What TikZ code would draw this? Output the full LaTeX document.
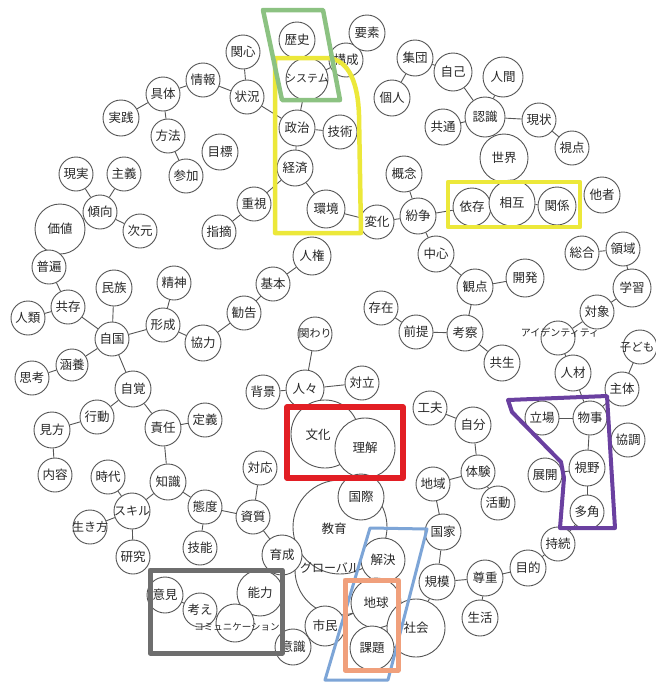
\documentclass[tikz,border=0pt]{standalone}
\usepackage{fontspec}
\newfontfamily\jp{Noto Sans CJK JP}
\definecolor{cgray}{RGB}{85,85,85}
\definecolor{ctext}{RGB}{40,40,40}
\definecolor{fgreen}{RGB}{140,194,130}
\definecolor{fyellow}{RGB}{236,232,58}
\definecolor{fred}{RGB}{226,30,36}
\definecolor{fpurple}{RGB}{106,64,160}
\definecolor{fgray}{RGB}{110,110,110}
\definecolor{fblue}{RGB}{125,165,215}
\definecolor{forange}{RGB}{240,160,124}
\tikzset{
  bub/.style={circle,draw=cgray,line width=0.9pt,fill=white,inner sep=0pt},
  txt/.style={font=\jp\fontsize{12.5}{13}\selectfont,text=ctext,inner sep=0pt},
  edge/.style={draw=cgray,line width=0.9pt},
  frm/.style={line width=4.5pt,line join=round}
}
\newcommand\NDcirc[5]{\node[bub,minimum size={2*#4}] (#1) at (#2,#3) {};}
\newcommand\NDtext[5]{\node[txt] (#1-t) at (#1) {#5};}
\newcommand\NXcirc[7]{\node[bub,minimum size={2*#4}] (#1) at (#2,#3) {};}
\newcommand\NXtext[7]{\node[txt] (#1-t) at (#5,#6) {#7};}
\newcommand\allnodes{%
\ND{rekishi}{297}{40}{18}{歴史}
\ND{kousei}{346}{60}{17}{構成}
\ND{yoso}{367}{33}{18}{要素}
\ND{kanshin}{243}{52}{17}{関心}
\ND{system}{307}{79}{21}{{\fontsize{11}{11}\selectfont システム}}
\ND{shudan}{415}{58}{18}{集団}
\ND{jiko}{453}{72}{19}{自己}
\ND{ningen}{503}{77}{20}{人間}
\ND{kojin}{392}{98}{18}{個人}
\ND{jouhou}{203}{80}{17}{情報}
\ND{gutai}{163}{94}{17}{具体}
\ND{joukyou}{247}{97}{17}{状況}
\ND{jissen}{121}{118}{18}{実践}
\ND{houhou}{168}{136}{17}{方法}
\ND{seiji}{297}{128}{18}{政治}
\ND{gijutsu}{340}{132}{17}{技術}
\ND{kyoutsu}{443}{127}{18}{共通}
\ND{sekai}{504}{158}{24}{世界}
\ND{ninshiki}{485}{117}{20}{認識}
\ND{genjou}{539}{120}{17}{現状}
\ND{shiten}{572}{148}{17}{視点}
\ND{mokuhyou}{220}{152}{18}{目標}
\ND{sanka}{186}{176}{17}{参加}
\ND{keizai}{295}{168}{18}{経済}
\ND{gainen}{404}{174}{18}{概念}
\ND{genjitsu}{76}{174}{17}{現実}
\ND{shugi}{124}{174}{17}{主義}
\ND{keikou}{100}{212}{17}{傾向}
\ND{kachi}{60}{229}{25}{価値}
\ND{jigen}{140}{231}{17}{次元}
\ND{juushi}{254}{204}{17}{重視}
\ND{kankyou}{326}{209}{19}{環境}
\ND{henka}{377}{222}{17}{変化}
\ND{funsou}{418}{216}{18}{紛争}
\ND{izon}{472}{207}{19}{依存}
\ND{kankei}{557}{206}{19}{関係}
\ND{sougo}{512}{203}{23}{相互}
\ND{tasha}{602}{195}{18}{他者}
\ND{shiteki}{219}{232}{17}{指摘}
\ND{chuushin}{436}{254}{18}{中心}
\ND{fuhen}{49}{267}{17}{普遍}
\ND{sougou}{582}{253}{17}{総合}
\ND{ryouiki}{623}{249}{17}{領域}
\ND{jinken}{312}{256}{19}{人権}
\ND{minzoku}{114}{288}{18}{民族}
\ND{seishin}{174}{283}{17}{精神}
\ND{kihon}{273}{284}{17}{基本}
\ND{kanten}{475}{287}{18}{観点}
\ND{kaihatsu}{525}{278}{19}{開発}
\ND{gakushuu}{632}{288}{19}{学習}
\ND{kyouzon}{68}{307}{17}{共存}
\ND{jinrui}{28}{318}{17}{人類}
\ND{keisei}{163}{325}{17}{形成}
\ND{kyouryoku}{203}{343}{18}{協力}
\ND{kankoku}{244}{313}{17}{勧告}
\ND{taishou}{597}{312}{17}{対象}
\ND{sonzai}{381}{308}{17}{存在}
\ND{zentei}{416}{332}{17}{前提}
\ND{kousatsu}{465}{333}{18}{考察}
\ND{jikoku}{112}{339}{17}{自国}
\NX{identity}{558}{338}{17}{560}{333}{{\fontsize{10}{10}\selectfont アイデンティティ}}
\ND{kakawari}{315}{334}{17}{{\fontsize{11}{11}\selectfont 関わり}}
\NX{kodomo}{640}{347}{17}{637}{347}{{\fontsize{11.5}{11}\selectfont 子ども}}
\ND{kanyou}{72}{365}{16}{涵養}
\ND{shikou}{32}{378}{17}{思考}
\ND{kyousei}{502}{363}{18}{共生}
\ND{jinzai}{573}{373}{18}{人材}
\ND{haikei}{263}{392}{17}{背景}
\ND{hitobito}{305}{389}{19}{人々}
\ND{tairitsu}{362}{383}{17}{対立}
\ND{jikaku}{133}{389}{18}{自覚}
\ND{shutai}{622}{389}{17}{主体}
\NX{bunka}{325}{434}{34}{318}{435}{文化}
\ND{rikai}{365}{448}{30}{理解}
\ND{kufuu}{430}{408}{17}{工夫}
\ND{koudou}{97}{417}{17}{行動}
\ND{teigi}{205}{420}{17}{定義}
\ND{tachiba}{542}{418}{17}{立場}
\ND{monogoto}{590}{418}{17}{物事}
\ND{sekinin}{163}{428}{18}{責任}
\ND{jibun}{473}{425}{18}{自分}
\ND{mikata}{52}{430}{18}{見方}
\ND{kyouchou}{628}{440}{17}{協調}
\NX{global}{340}{570}{45}{330}{568}{{\fontsize{12}{12}\selectfont グローバル}}
\NX{kyouiku}{340}{527}{47}{334}{529}{教育}
\ND{kokusai}{361}{497}{23}{国際}
\ND{taiou}{260}{468}{17}{対応}
\ND{chiiki}{433}{484}{17}{地域}
\ND{taiken}{478}{472}{17}{体験}
\ND{naiyou}{55}{475}{17}{内容}
\ND{jidai}{108}{477}{17}{時代}
\ND{chishiki}{168}{482}{18}{知識}
\ND{tenkai}{545}{475}{17}{展開}
\ND{shiya}{587}{468}{18}{視野}
\ND{katsudou}{498}{503}{17}{活動}
\ND{takaku}{587}{512}{17}{多角}
\ND{taido}{205}{507}{17}{態度}
\ND{shishitsu}{253}{517}{17}{資質}
\ND{kokka}{443}{532}{18}{国家}
\ND{skill}{132}{511}{18}{{\fontsize{12}{12}\selectfont スキル}}
\ND{ikikata}{90}{527}{17}{{\fontsize{12}{12}\selectfont 生き方}}
\ND{jizoku}{558}{544}{17}{持続}
\ND{kenkyuu}{133}{557}{17}{研究}
\ND{ginou}{200}{548}{17}{技能}
\ND{ikusei}{282}{555}{20}{育成}
\ND{kaiketsu}{383}{560}{22}{解決}
\ND{mokuteki}{528}{568}{18}{目的}
\ND{kibo}{437}{582}{18}{規模}
\ND{sonchou}{485}{578}{18}{尊重}
\ND{iken}{165}{595}{18}{意見}
\ND{kangae}{200}{610}{17}{考え}
\ND{nouryoku}{260}{593}{23}{能力}
\ND{chikyuu}{376}{603}{25}{地球}
\ND{shakai}{416}{628}{29}{社会}
\ND{kadai}{372}{648}{22}{課題}
\ND{shimin}{325}{626}{20}{市民}
\ND{seikatsu}{480}{618}{18}{生活}
\NX{comm}{235}{623}{19}{237}{627}{{\fontsize{9.5}{10}\selectfont コミュニケーション}}
\ND{ishiki}{293}{647}{18}{意識}
}
\begin{document}
\begin{tikzpicture}[x=1pt,y=-1pt]
\useasboundingbox (0,0) rectangle (656,683);
\fill[white] (0,0) rectangle (656,683);
% circles
\let\ND\NDcirc \let\NX\NXcirc
\allnodes
% connectors
\foreach \a/\b in {gutai/jissen,gutai/jouhou,gutai/houhou,houhou/sanka,jouhou/joukyou,
  joukyou/kanshin,joukyou/seiji,system/seiji,seiji/gijutsu,seiji/keizai,system/kousei,
  keizai/kankyou,keizai/juushi,juushi/shiteki,kankyou/henka,henka/funsou,funsou/gainen,
  funsou/chuushin,funsou/izon,sougo/kankei,ninshiki/sekai,ninshiki/jiko,ninshiki/kyoutsu,
  ninshiki/genjou,ninshiki/ningen,genjou/shiten,shudan/kojin,shudan/jiko,
  chuushin/kanten,kanten/kaihatsu,kanten/kousatsu,kousatsu/zentei,zentei/sonzai,
  kousatsu/kyousei,sougou/ryouiki,ryouiki/gakushuu,gakushuu/taishou,taishou/identity,
  identity/jinzai,jinzai/monogoto,monogoto/tachiba,monogoto/shiya,shiya/takaku,
  shiya/tenkai,shutai/kodomo,shutai/monogoto,takaku/jizoku,jizoku/mokuteki,
  mokuteki/sonchou,sonchou/kibo,sonchou/seikatsu,kibo/kokka,kokka/chiiki,chiiki/taiken,
  taiken/jibun,taiken/katsudou,jibun/kufuu,jinken/kihon,kihon/kankoku,
  kankoku/kyouryoku,kyouryoku/keisei,keisei/seishin,keisei/jikoku,jikoku/minzoku,
  jikoku/kyouzon,kyouzon/jinrui,kyouzon/fuhen,kachi/keikou,keikou/genjitsu,
  keikou/shugi,keikou/jigen,jikoku/kanyou,kanyou/shikou,jikoku/jikaku,jikaku/koudou,
  koudou/mikata,mikata/naiyou,jikaku/sekinin,sekinin/teigi,sekinin/chishiki,
  chishiki/skill,chishiki/taido,skill/jidai,skill/ikikata,skill/kenkyuu,taido/ginou,
  taido/shishitsu,shishitsu/taiou,shishitsu/ikusei,hitobito/kakawari,hitobito/haikei,
  hitobito/tairitsu,ikusei/nouryoku,comm/kangae,kangae/iken,chikyuu/shimin,kibo/shakai}
  \draw[edge] (\a) -- (\b);
% texts
\let\ND\NDtext \let\NX\NXtext
\allnodes
% frames
\draw[frm,fyellow] (275,58) -- (328,58) .. controls (350,60) and (358,85) .. (359,115) -- (361,233) -- (275,233) -- cycle;
\draw[frm,fgreen] (263,10) -- (323,10) -- (340,100) -- (282,100) -- cycle;
\draw[frm,fyellow] (448,182) rectangle (580,227);
\draw[frm,fred,line width=5.5pt] (287,407) rectangle (403,478);
\draw[frm,fpurple,line width=4pt] (508,400) -- (607,396) -- (615,528) -- (560,528) -- (564,478) -- (561,462) -- (512,412) -- cycle;
\draw[frm,fgray,line width=5pt] (150,570) rectangle (282,653);
\draw[frm,fblue,line width=3pt] (370,528) -- (427,529) -- (388,680) -- (325,680) -- cycle;
\draw[frm,forange,line width=5pt] (345,580) rectangle (398,670);
\end{tikzpicture}
\end{document}
